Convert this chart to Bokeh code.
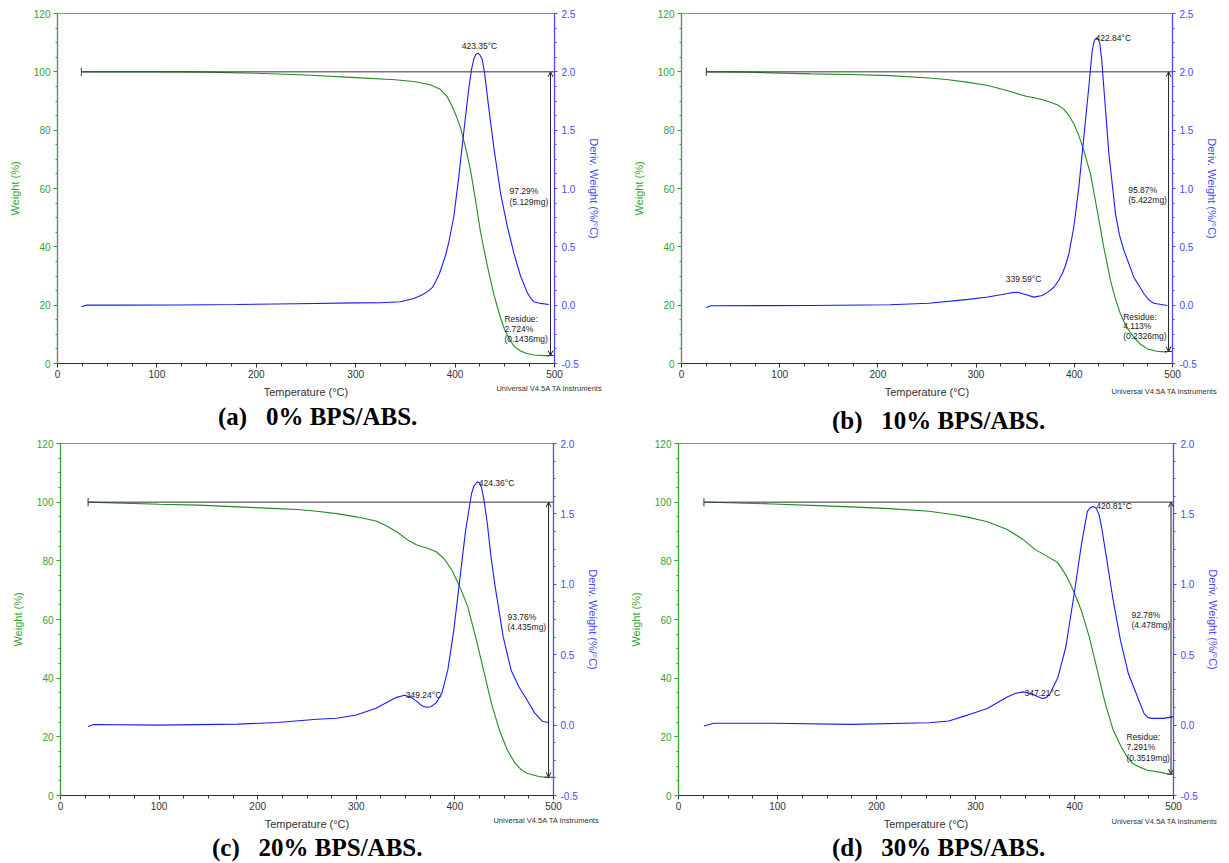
from bokeh.plotting import figure
from bokeh.models import (Range1d, LinearAxis, SingleIntervalTicker, PrintfTickFormatter,
                          Label, Arrow, OpenHead)
from bokeh.layouts import column, row
from bokeh.embed import file_html
from bokeh.resources import INLINE

# ---------------- data ----------------
# (a) 0% BPS/ABS
a_T_w = [25, 100, 150, 200, 250, 300, 340, 360, 375, 385, 392, 397, 401, 405.4, 410.5, 415.5,
         420.5, 425.6, 432.3, 439, 445.7, 450, 455.7, 460, 465.8, 472, 479.2, 494.3]
a_w = [100.0, 100.0, 99.9, 99.5, 98.9, 98.0, 97.3, 96.6, 95.6, 94.0, 91.5, 88.2, 85.0, 80.9, 74.1,
       66.3, 56.1, 45.0, 33.7, 23.6, 15.6, 11.5, 7.7, 5.7, 4.3, 3.4, 2.9, 2.6]
a_T_d = [24, 29, 60, 120, 180, 240, 300, 325, 345, 358.5, 366, 372, 377, 380.3, 384, 387, 390.5,
         393.7, 398.7, 403.7, 408.8, 413.8, 416.5, 418.8, 421, 423.2, 425.3, 427.2, 429.5, 432.3,
         435.5, 439, 445.7, 452.4, 459, 465.8, 472.5, 476, 479.2, 486, 494.3]
a_d = [-0.013, 0.0, 0.0, 0.002, 0.006, 0.012, 0.02, 0.021, 0.029, 0.057, 0.085, 0.114, 0.15, 0.2,
       0.265, 0.34, 0.43, 0.54, 0.76, 1.10, 1.49, 1.86, 2.02, 2.11, 2.15, 2.16, 2.14, 2.11, 2.0,
       1.80, 1.58, 1.35, 0.96, 0.68, 0.45, 0.25, 0.11, 0.06, 0.03, 0.015, 0.006]

# (b) 10% BPS/ABS
b_T_w = [26, 64, 132, 172, 212, 252, 272, 292, 312, 331, 351, 359, 367, 376, 383, 389, 394, 399.5,
         404.5, 409.7, 416.5, 423.3, 430, 436.8, 442, 447, 453, 460.6, 467, 474.2, 484, 494.6]
b_w = [100.0, 99.9, 99.3, 99.1, 98.7, 97.9, 97.3, 96.4, 95.3, 93.6, 91.6, 91.1, 90.5, 89.6, 88.6,
       87.3, 85.3, 82.2, 78.3, 73.0, 65.0, 52.5, 39.9, 28.5, 22.0, 17.0, 12.6, 9.0, 6.7, 5.0, 4.2,
       3.9]
b_T_d = [25.3, 30, 80, 132, 212, 252, 292, 312, 325, 335, 342, 350.3, 358.8, 367.3, 373, 379.2,
         383.5, 387.7, 391, 394.5, 399.5, 404.6, 409.7, 414.8, 418.2, 420.5, 422.6, 424.5, 426,
         428, 430, 435.2, 442, 446, 450.5, 460.6, 470.8, 476, 481, 494.6]
b_d = [-0.02, -0.005, -0.004, -0.003, 0.003, 0.017, 0.05, 0.07, 0.089, 0.105, 0.111, 0.091, 0.069,
       0.083, 0.112, 0.154, 0.205, 0.269, 0.34, 0.44, 0.67, 1.01, 1.44, 1.87, 2.18, 2.27, 2.29,
       2.28, 2.24, 2.1, 1.87, 1.30, 0.78, 0.6, 0.47, 0.24, 0.10, 0.045, 0.017, -0.003]

# (c) 20% BPS/ABS
c_T_w = [28, 100, 140, 180, 220, 240, 260, 280, 300, 320, 329, 341, 353, 361, 367, 373, 381, 389,
         397, 405, 413, 421, 429, 437, 445, 453, 461, 467, 473, 485, 495]
c_w = [100.0, 99.3, 99.0, 98.4, 97.8, 97.5, 96.9, 96.1, 95.0, 93.6, 92.2, 89.9, 86.9, 85.5, 84.8,
       84.2, 83.1, 80.8, 76.8, 71.2, 64.4, 54.1, 42.8, 31.5, 22.4, 15.6, 11.0, 8.9, 7.6, 6.5, 6.1]
c_T_d = [28, 34, 100, 180, 220, 260, 280, 300, 320, 332.7, 340, 349, 356, 362, 366, 370.8, 375.5,
         380.8, 386.8, 392.8, 398.9, 404.9, 410.9, 416.9, 419.5, 422.9, 424.9, 426.9, 429.5, 432.9,
         436.5, 440.9, 448.9, 457, 465, 473, 481, 489, 495]
c_d = [-0.01, 0.004, 0.0, 0.007, 0.018, 0.042, 0.049, 0.072, 0.12, 0.167, 0.195, 0.212, 0.195,
       0.165, 0.14, 0.127, 0.13, 0.156, 0.226, 0.392, 0.675, 1.03, 1.385, 1.645, 1.70, 1.728, 1.72,
       1.69, 1.6, 1.43, 1.2, 0.98, 0.63, 0.39, 0.27, 0.18, 0.085, 0.025, 0.018]

# (d) 30% BPS/ABS
d_T_w = [26, 42, 95, 134, 174, 213, 253, 277, 292, 312, 332, 348, 360, 372, 383, 391, 399, 407,
         415, 423, 431, 439, 447, 452, 458, 466, 474, 490, 498]
d_w = [100.0, 99.9, 99.4, 98.9, 98.4, 97.8, 96.9, 95.8, 94.9, 93.3, 90.7, 87.3, 83.9, 81.6, 79.4,
       75.4, 69.8, 63.0, 54.0, 42.7, 31.4, 22.4, 16.7, 13.8, 11.1, 9.6, 8.6, 7.7, 7.1]
d_T_d = [25.7, 35.6, 95, 174, 253, 273, 292, 312, 332, 340, 348, 356, 362, 367.5, 371.5, 375.4,
         383.3, 391.2, 399.1, 407, 413, 416, 419, 422, 424.8, 427.5, 430.7, 438.6, 446.5, 454.4,
         462.3, 470.2, 474, 478, 490, 500]
d_d = [-0.006, 0.013, 0.013, 0.005, 0.017, 0.029, 0.071, 0.118, 0.20, 0.225, 0.236, 0.224, 0.205,
       0.189, 0.195, 0.224, 0.34, 0.553, 0.906, 1.283, 1.518, 1.545, 1.553, 1.54, 1.495, 1.40,
       1.26, 0.906, 0.60, 0.366, 0.224, 0.083, 0.055, 0.048, 0.048, 0.06]

captions = ["(a) \u00a0 0% BPS/ABS.", "(b) \u00a0 10% BPS/ABS.",
            "(c) \u00a0 20% BPS/ABS.", "(d) \u00a0 30% BPS/ABS."]
peak_main = ["423.35\u00b0C", "422.84\u00b0C", "424.36\u00b0C", "420.81\u00b0C"]
peak_small = [None, "339.59\u00b0C", "349.24\u00b0C", "347.21\u00b0C"]
loss_text = [["97.29%", "(5.129mg)"], ["95.87%", "(5.422mg)"],
             ["93.76%", "(4.435mg)"], ["92.78%", "(4.478mg)"]]
residue_text = [["Residue:", "2.724%", "(0.1436mg)"], ["Residue:", "4.113%", "(0.2326mg)"],
                None, ["Residue:", "7.291%", "(0.3519mg)"]]
residue_val = [2.724, 4.113, 6.24, 7.291]
step_start = [24, 25.3, 28, 25.7]
arrow_T = [496, 496, 495, 497.5]
deriv_max = [2.5, 2.5, 2.0, 2.0]

GREEN = "#228b22"
GREEN_AX = "#33a333"
BLUE = "#1a1aff"
BLUE_AX = "#4a4aff"
DARK = "#333333"
FONT = "Liberation Sans"


def panel(i, T_w, w, T_d, d, W, H, L, R, Tp, B, cap, uni, ann):
    p = figure(width=W, height=H, x_range=Range1d(0, 500), y_range=Range1d(0, 120),
               output_backend="svg", toolbar_location=None, title=None,
               min_border_left=L, min_border_right=R, min_border_top=Tp, min_border_bottom=B)
    p.extra_y_ranges = {"d": Range1d(-0.5, deriv_max[i])}
    p.xgrid.visible = False
    p.ygrid.visible = False
    p.outline_line_color = "#8c8c8c"
    p.background_fill_color = "white"
    p.border_fill_color = "white"

    xa = p.xaxis[0]
    xa.ticker = SingleIntervalTicker(interval=100, num_minor_ticks=4)
    xa.axis_label = "Temperature (\u00b0C)"
    xa.axis_label_text_font = FONT
    xa.axis_label_text_font_style = "normal"
    xa.axis_label_text_font_size = "11px"
    xa.axis_label_text_color = DARK
    xa.axis_label_standoff = 5
    xa.major_label_text_font = FONT
    xa.major_label_text_font_size = "10px"
    xa.major_label_text_color = DARK
    xa.major_label_standoff = 2
    xa.axis_line_color = DARK
    xa.major_tick_line_color = DARK
    xa.minor_tick_line_color = DARK
    xa.major_tick_in = 0
    xa.major_tick_out = 4
    xa.minor_tick_in = 0
    xa.minor_tick_out = 3

    ya = p.yaxis[0]
    ya.ticker = SingleIntervalTicker(interval=20, num_minor_ticks=4)
    ya.axis_label = "Weight (%)"
    ya.axis_label_text_font = FONT
    ya.axis_label_text_font_style = "normal"
    ya.axis_label_text_font_size = "11px"
    ya.axis_label_text_color = GREEN_AX
    ya.axis_label_standoff = 10
    ya.major_label_text_font = FONT
    ya.major_label_text_font_size = "10px"
    ya.major_label_text_color = GREEN_AX
    ya.major_label_standoff = 3
    ya.axis_line_color = GREEN_AX
    ya.axis_line_width = 1.3
    ya.major_tick_line_color = GREEN_AX
    ya.minor_tick_line_color = GREEN_AX
    ya.major_tick_in = 0
    ya.major_tick_out = 4
    ya.minor_tick_in = 0
    ya.minor_tick_out = 2

    ra = LinearAxis(y_range_name="d",
                    ticker=SingleIntervalTicker(interval=0.5, num_minor_ticks=4),
                    formatter=PrintfTickFormatter(format="%.1f"))
    ra.axis_label = "Deriv. Weight (%/\u00b0C)"
    ra.axis_label_text_font = FONT
    ra.axis_label_text_font_style = "normal"
    ra.axis_label_text_font_size = "11px"
    ra.axis_label_text_color = BLUE_AX
    ra.axis_label_standoff = 6
    ra.major_label_text_font = FONT
    ra.major_label_text_font_size = "10px"
    ra.major_label_text_color = BLUE_AX
    ra.major_label_standoff = 4
    ra.axis_line_color = BLUE_AX
    ra.axis_line_width = 1.3
    ra.major_tick_line_color = BLUE_AX
    ra.minor_tick_line_color = BLUE_AX
    ra.major_tick_in = 0
    ra.major_tick_out = 3
    ra.minor_tick_in = 0
    ra.minor_tick_out = 2
    p.add_layout(ra, "right")

    # curves
    p.line(T_w, w, line_color=GREEN, line_width=1.1)
    p.line(T_d, d, line_color=BLUE, line_width=1.1, y_range_name="d")

    # step line at 100 % (drawn over the curves, as in the instrument plot)
    p.segment(x0=[step_start[i]], y0=[100], x1=[500], y1=[100], line_color=DARK, line_width=1)
    p.segment(x0=[step_start[i]], y0=[98.6], x1=[step_start[i]], y1=[101.4],
              line_color=DARK, line_width=1)
    p.segment(x0=[arrow_T[i] - 4], y0=[residue_val[i]], x1=[500], y1=[residue_val[i]],
              line_color=DARK, line_width=1)

    p.add_layout(Arrow(x_start=arrow_T[i], y_start=residue_val[i], x_end=arrow_T[i], y_end=100,
                       line_color="#222222", line_width=1,
                       start=OpenHead(size=5, line_color="#222222", line_width=1),
                       end=OpenHead(size=5, line_color="#222222", line_width=1)))

    def lab(x, y, t, align="left"):
        p.add_layout(Label(x=x, y=y, text=t, text_font=FONT, text_font_size="8.5px",
                           text_color="#1a1a1a", text_align=align, text_baseline="middle"))

    (pk_x, pk_y, pk_al), small, loss, res = ann
    lab(pk_x, pk_y, peak_main[i], pk_al)
    if small is not None:
        lab(small[0], small[1], peak_small[i], "center")
    for k, t in enumerate(loss_text[i]):
        lab(loss[0], loss[1] - k * loss[2], t)
    if res is not None:
        for k, t in enumerate(residue_text[i]):
            lab(res[0], res[1] - k * res[2], t)

    # texts outside the frame live in side panels (not clipped); placed by data coords
    p.add_layout(Label(x=uni[0], y=uni[1],
                       text="Universal V4.5A TA Instruments", text_font=FONT,
                       text_font_size="7.5px", text_color=DARK, text_baseline="middle"), "above")
    p.add_layout(Label(x=cap[0], y=cap[1],
                       text=captions[i], text_font="Liberation Serif", text_font_style="bold",
                       text_font_size="25px", text_color="black", text_baseline="middle"), "below")
    return p


pa = panel(0, a_T_w, a_w, a_T_d, a_d, 626, 433, 57, 72, 11, 67, (161.5, -18.3), (441.6, -8.45),
           ((424.5, 108.9, "center"), None, (454.7, 59.2, 3.7), (449.6, 15.3, 3.4)))
pb = panel(1, b_T_w, b_w, b_T_d, b_d, 599, 433, 55, 53, 13, 70, (153.3, -19.5), (437.9, -9.6),
           ((421.6, 111.7, "left"), (348.3, 29.1), (454.9, 59.5, 3.6), (449.8, 16.1, 3.4)))
pc = panel(2, c_T_w, c_w, c_T_d, c_d, 626, 429, 60, 73, 10, 67, (153.7, -17.7), (439.1, -8.5),
           ((424.2, 106.5, "left"), (368.2, 34.1), (453.3, 60.8, 3.4), None))
pd = panel(3, d_T_w, d_w, d_T_d, d_d, 599, 429, 52, 52, 9, 67, (155.1, -17.6), (437.4, -8.7),
           ((422.0, 98.6, "left"), (367.5, 35.0), (457.6, 61.6, 3.6), (452.5, 19.9, 3.5)))

layout = column(row(pa, pb), row(pc, pd))
open("out.html", "w").write(file_html(layout, INLINE))
